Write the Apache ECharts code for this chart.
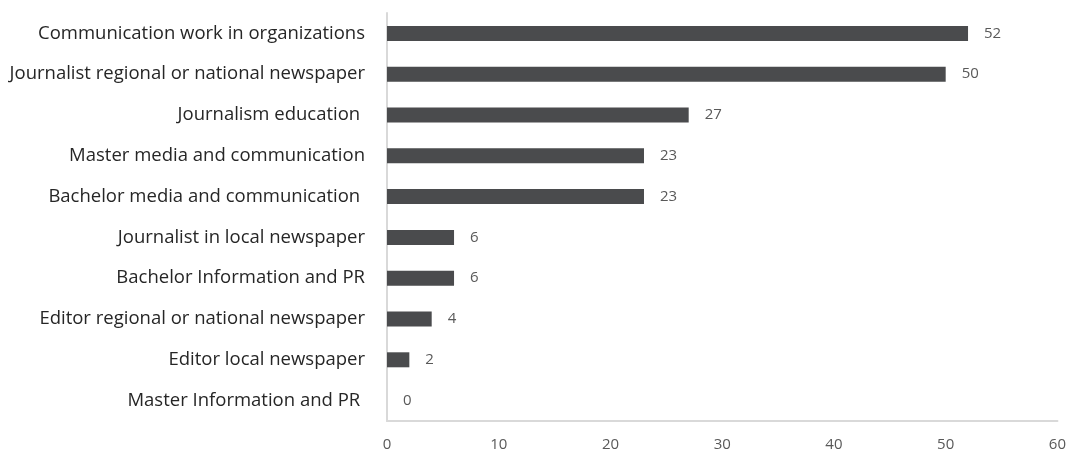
<!DOCTYPE html>
<html>
<head>
<meta charset="utf-8">
<script src="https://cdn.jsdelivr.net/npm/echarts@6/dist/echarts.min.js"></script>
<style>
  html, body { margin: 0; padding: 0; background: #fff; }
  #chart { width: 1069px; height: 452px; }
</style>
</head>
<body>
<div id="chart"></div>
<script>
// Categories listed top to bottom
const categories = [
  'Communication work in organizations',
  'Journalist regional or national newspaper',
  'Journalism education ',
  'Master media and communication',
  'Bachelor media and communication ',
  'Journalist in local newspaper',
  'Bachelor Information and PR',
  'Editor regional or national newspaper',
  'Editor local newspaper',
  'Master Information and PR '
];
const counts = [52, 50, 27, 23, 23, 6, 6, 4, 2, 0];
const xTicks = [0, 10, 20, 30, 40, 50, 60];

const FONT = '"Open Sans", "Noto Sans", sans-serif';
const chart = echarts.init(document.getElementById('chart'), null, { renderer: 'canvas' });

chart.setOption({
  animation: false,
  backgroundColor: '#ffffff',
  grid: { left: 387, right: 11, top: 13, bottom: 31, containLabel: false },
  xAxis: {
    type: 'value',
    min: xTicks[0],
    max: xTicks[xTicks.length - 1],
    interval: xTicks[1] - xTicks[0],
    axisLine: { show: true, lineStyle: { color: '#d9d9d9', width: 2 } },
    axisTick: { show: false },
    splitLine: { show: false },
    axisLabel: { color: '#595959', fontSize: 15, fontFamily: FONT, margin: 16 }
  },
  yAxis: {
    type: 'category',
    inverse: true,
    data: categories,
    axisLine: { show: true, lineStyle: { color: '#d9d9d9', width: 2 } },
    axisTick: { show: false },
    axisLabel: { color: '#262626', fontSize: 18.5, fontFamily: FONT, margin: 22 }
  },
  series: [{
    type: 'bar',
    data: counts,
    barWidth: 15,
    itemStyle: { color: '#4a4b4d' },
    label: {
      show: true,
      position: 'right',
      distance: 16,
      color: '#595959',
      fontSize: 15,
      fontFamily: FONT
    }
  }]
});
</script>
</body>
</html>
